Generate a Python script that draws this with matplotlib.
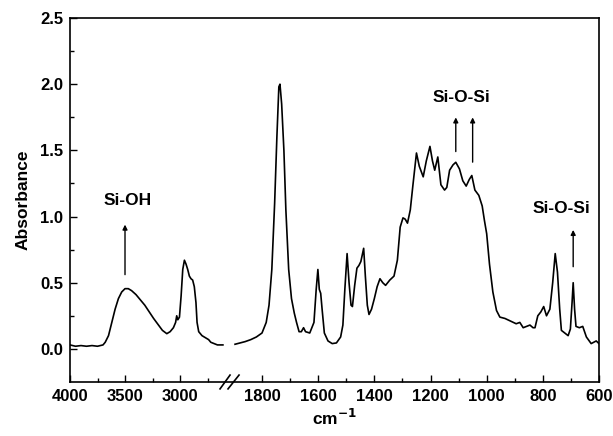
import numpy as np
import matplotlib.pyplot as plt
from matplotlib.ticker import FixedLocator, NullFormatter

plt.rcParams['font.family'] = ['Liberation Sans', 'DejaVu Sans']
plt.rcParams['font.weight'] = 'bold'

# spectrum, high wavenumber part (before the axis break)
wn_high = [4000, 3950, 3900, 3850, 3800, 3750, 3700, 3680, 3650, 3620, 3590,
           3560, 3530, 3500, 3470, 3440, 3400, 3360, 3320, 3280, 3240, 3200,
           3160, 3120, 3090, 3060, 3040, 3030, 3020, 3005, 2990, 2975, 2960,
           2945, 2930, 2915, 2900, 2885, 2870, 2855, 2845, 2830, 2800, 2770,
           2740, 2720, 2690, 2660, 2610]
abs_high = [0.03, 0.02, 0.025, 0.02, 0.025, 0.02, 0.03, 0.05, 0.10, 0.20, 0.30,
            0.38, 0.43, 0.455, 0.455, 0.44, 0.41, 0.37, 0.33, 0.28, 0.23, 0.185,
            0.14, 0.115, 0.13, 0.16, 0.20, 0.25, 0.22, 0.24, 0.40, 0.60, 0.67,
            0.64, 0.60, 0.55, 0.53, 0.52, 0.47, 0.35, 0.20, 0.13, 0.10, 0.085,
            0.07, 0.05, 0.04, 0.03, 0.03]

# spectrum, fingerprint part (after the break)
wn_low = [1896, 1860, 1840, 1820, 1800, 1785, 1775, 1765, 1755, 1747, 1740,
          1736, 1730, 1722, 1715, 1705, 1695, 1685, 1677, 1668, 1660, 1652,
          1645, 1630, 1615, 1607, 1601, 1596, 1591, 1586, 1578, 1565, 1550,
          1535, 1520, 1512, 1505, 1497, 1490, 1483, 1478, 1470, 1462, 1455,
          1448, 1438, 1432, 1425, 1419, 1410, 1400, 1390, 1380, 1370, 1360,
          1345, 1330, 1318, 1308, 1298, 1290, 1282, 1272, 1263, 1250, 1240,
          1226, 1215, 1202, 1193, 1185, 1174, 1163, 1150, 1142, 1132, 1120,
          1110, 1097, 1085, 1073, 1062, 1053, 1042, 1028, 1016, 1008, 1000,
          990, 978, 965, 953, 935, 915, 905, 895, 882, 870, 858, 846, 835,
          828, 818, 807, 797, 787, 775, 765, 756, 748, 740, 734, 722, 710,
          702, 696, 692, 687, 682, 670, 658, 645, 628, 610, 600]
abs_low = [0.035, 0.055, 0.07, 0.09, 0.12, 0.20, 0.33, 0.60, 1.10, 1.60, 1.98,
           2.00, 1.85, 1.50, 1.05, 0.60, 0.38, 0.27, 0.20, 0.13, 0.13, 0.16,
           0.13, 0.12, 0.20, 0.45, 0.60, 0.45, 0.42, 0.30, 0.12, 0.06, 0.04,
           0.045, 0.09, 0.18, 0.45, 0.72, 0.50, 0.33, 0.32, 0.48, 0.61, 0.63,
           0.66, 0.76, 0.55, 0.33, 0.26, 0.30, 0.38, 0.47, 0.53, 0.50, 0.48,
           0.52, 0.55, 0.67, 0.92, 0.99, 0.98, 0.95, 1.05, 1.23, 1.48, 1.38,
           1.30, 1.42, 1.53, 1.42, 1.35, 1.45, 1.24, 1.20, 1.22, 1.35, 1.39,
           1.41, 1.36, 1.27, 1.23, 1.28, 1.31, 1.20, 1.16, 1.08, 0.97, 0.87,
           0.64, 0.43, 0.29, 0.24, 0.23, 0.21, 0.20, 0.19, 0.20, 0.16, 0.17,
           0.18, 0.16, 0.16, 0.25, 0.28, 0.32, 0.25, 0.30, 0.50, 0.72, 0.58,
           0.30, 0.14, 0.12, 0.10, 0.15, 0.35, 0.50, 0.30, 0.17, 0.16, 0.17,
           0.09, 0.04, 0.06, 0.04]

major_ticks = [4000, 3500, 3000, 1800, 1600, 1400, 1200, 1000, 800, 600]
minor_ticks = [3750, 3250, 2750, 1700, 1500, 1300, 1100, 900, 700]

# piecewise axis: two linear segments with a very narrow gap between 2580 and 1900
brk_wn = [600, 1900, 2580, 4000]
brk_u = [-599.0, -233.9, -226.2, -70.0]


def fwd(w):
    return np.interp(w, brk_wn, brk_u)


def inv(u):
    return np.interp(u, brk_u, brk_wn)


fig = plt.figure(figsize=(6.13, 4.36), dpi=100)
ax = fig.add_axes([0.1142, 0.1239, 0.8630, 0.8348])
ax.set_xscale('function', functions=(fwd, inv))

ax.plot(wn_high, abs_high, color='black', lw=1.2)
ax.plot(wn_low, abs_low, color='black', lw=1.2)

ax.set_xlim(4000, 600)
ax.set_ylim(-0.25, 2.5)

ax.xaxis.set_major_locator(FixedLocator(major_ticks))
ax.xaxis.set_minor_locator(FixedLocator(minor_ticks))
ax.xaxis.set_minor_formatter(NullFormatter())
ax.set_xticklabels([str(t) for t in major_ticks])
ax.set_yticks([0.0, 0.5, 1.0, 1.5, 2.0, 2.5])
ax.set_yticks([0.25, 0.75, 1.25, 1.75, 2.25], minor=True)
ax.set_yticklabels(['0.0', '0.5', '1.0', '1.5', '2.0', '2.5'])

ax.tick_params(which='both', direction='in', top=False, right=False,
               labelsize=12, width=1.0)
ax.tick_params(which='major', length=5, pad=5)
ax.tick_params(which='minor', length=3)
for lab in ax.get_xticklabels() + ax.get_yticklabels():
    lab.set_fontweight('bold')
for sp in ax.spines.values():
    sp.set_linewidth(1.2)

ax.set_ylabel('Absorbance', fontsize=12.5, fontweight='bold', labelpad=7)
ax.set_xlabel('cm$^{\\mathbf{-1}}$', fontsize=12.5, fontweight='bold', labelpad=3)

# axis break marks
for x0, x1 in [(0.2836, 0.3025), (0.2987, 0.3195)]:
    ax.plot([x0, x1], [-0.019, 0.019], color='black', lw=1.2,
            transform=ax.transAxes, clip_on=False)

arrow = dict(arrowstyle='-|>', color='black', lw=1.0, mutation_scale=7)
ax.annotate('', xy=(3500, 0.96), xytext=(3500, 0.54), arrowprops=arrow)
ax.text(3480, 1.12, 'Si-OH', ha='center', va='center', fontsize=12.5,
        fontweight='bold')

ax.annotate('', xy=(1110, 1.77), xytext=(1110, 1.47), arrowprops=arrow)
ax.annotate('', xy=(1050, 1.77), xytext=(1050, 1.39), arrowprops=arrow)
ax.text(1090, 1.9, 'Si-O-Si', ha='center', va='center', fontsize=12.5,
        fontweight='bold')

ax.annotate('', xy=(692, 0.92), xytext=(692, 0.60), arrowprops=arrow)
ax.text(735, 1.06, 'Si-O-Si', ha='center', va='center', fontsize=12.5,
        fontweight='bold')

fig.savefig('out.png', dpi=100)
